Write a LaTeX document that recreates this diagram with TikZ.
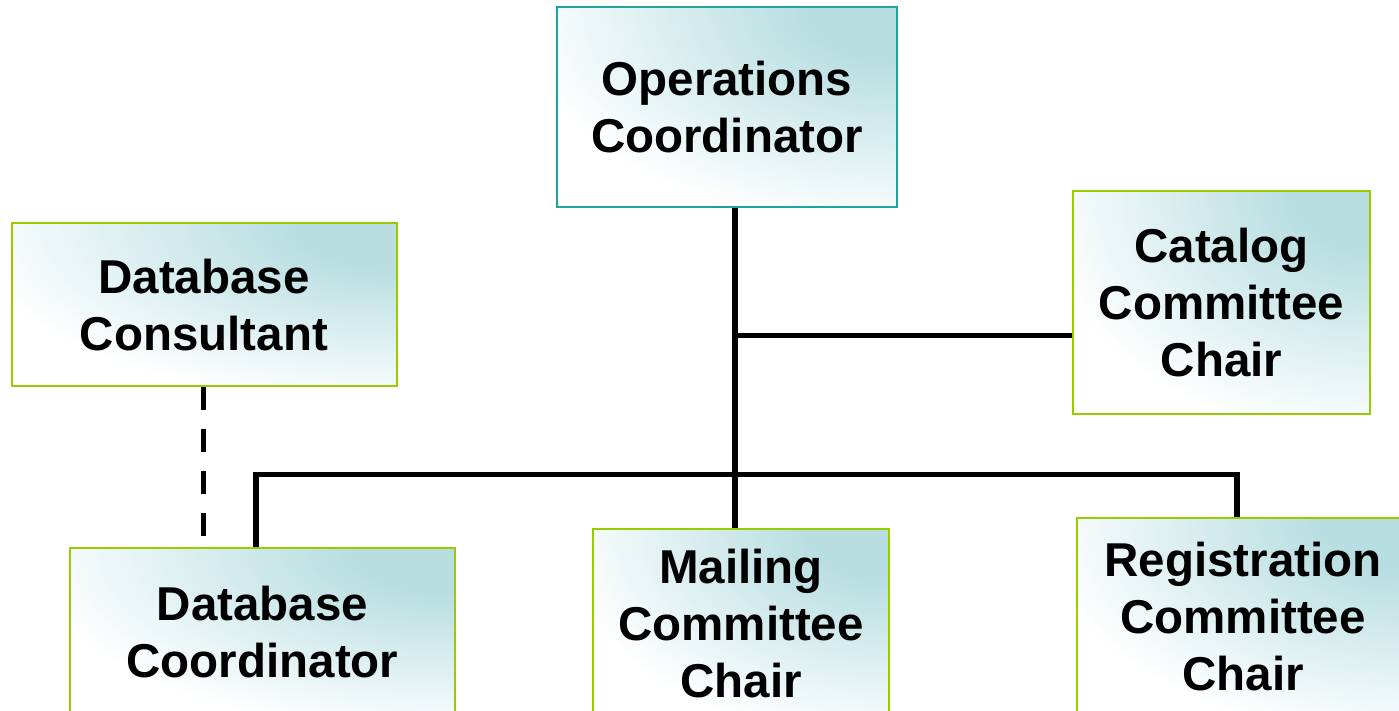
\documentclass[tikz,border=0pt]{standalone}
\usepackage{fontspec}
\setmainfont{Liberation Sans}
\usetikzlibrary{calc}
\definecolor{boxteal}{RGB}{184,222,225}
\definecolor{opsborder}{RGB}{32,162,162}
\definecolor{greenborder}{RGB}{153,204,0}
\pgfdeclareradialshading{cornerglow}{\pgfpoint{0bp}{0bp}}{color(0bp)=(boxteal); color(6bp)=(boxteal); color(25bp)=(white); color(50bp)=(white)}
\tikzset{
  orgbox/.style={draw=greenborder, line width=2pt, rectangle, inner sep=0pt,
    align=center, font=\fontsize{47.5pt}{57pt}\selectfont\bfseries,
    path picture={
      \fill[white] (path picture bounding box.south west) rectangle (path picture bounding box.north east);
      \shade[shading=cornerglow] let \p1=(path picture bounding box.south west), \p2=(path picture bounding box.north east) in
        (\p2) ellipse [x radius={1.12*(\x2-\x1)}, y radius={1.12*(\y2-\y1)}];
    }},
  topbox/.style={orgbox, draw=opsborder},
  link/.style={line width=5.5pt, black},
  dashlink/.style={line width=5.5pt, black, dash pattern=on 23pt off 19pt}
}
\begin{document}
\begin{tikzpicture}[x=1pt,y=-1pt]
\path[use as bounding box, clip] (0,0) rectangle (1399,711);
\fill[white] (0,0) rectangle (1399,711);
% boxes
\node[topbox, minimum width=340pt, minimum height=200pt] (ops) at (727,107) {Operations\\Coordinator};
\node[orgbox, minimum width=297pt, minimum height=223pt] (catalog) at (1221.5,302.5) {Catalog\\Committee\\Chair};
\node[orgbox, minimum width=385pt, minimum height=163pt] (consult) at (204,304.7) {Database\\Consultant};
\node[orgbox, minimum width=385pt, minimum height=168pt] (dbcoord) at (262.5,632) {Database\\Coordinator};
\node[orgbox, minimum width=296pt, minimum height=190pt] (mailing) at (741,624) {Mailing\\Committee\\Chair};
\node[orgbox, minimum width=332pt, minimum height=198pt] (regist) at (1243,617) {Registration\\Committee\\Chair};
% junction coordinates
\coordinate (spine) at (735,0);
\coordinate (catjoin) at (735,335.5);
\coordinate (busL) at (256,474.5);
\coordinate (busR) at (1237,474.5);
\coordinate (dashx) at (203.5,0);
\coordinate (dashend) at (203.5,537);
% connectors
\draw[link] (ops.south -| spine) -- (mailing.north -| spine);
\draw[link] (catjoin) -- (catjoin -| catalog.west);
\draw[link] (dbcoord.north -| busL) -- (busL) -- (busR) -- (regist.north -| busR);
\draw[dashlink] (consult.south -| dashx) -- (dashend);
\end{tikzpicture}
\end{document}
